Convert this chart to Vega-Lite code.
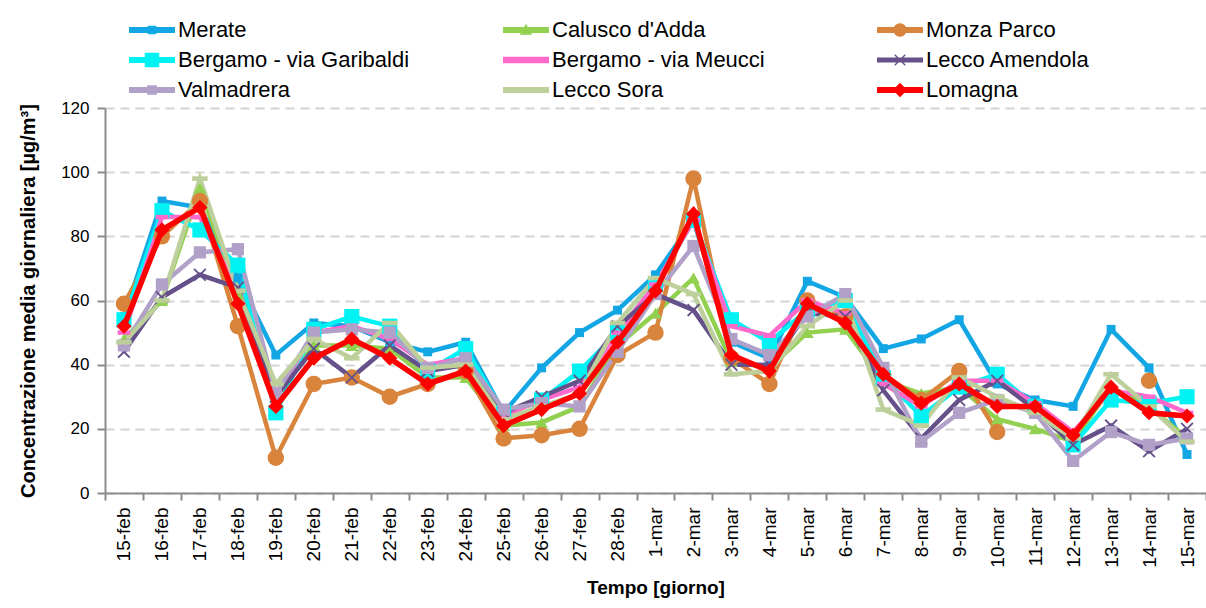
{
"$schema": "https://vega.github.io/schema/vega-lite/v6.json",
"width": 1101,
"height": 385,
"autosize": {"type": "none"},
"padding": {"left": 105, "top": 108, "right": 0, "bottom": 115},
"background": "white",
"config": {"view": {"stroke": null}, "font": "Liberation Sans"},
"datasets": {
"serie": [
{"stazione":"Merate","giorno":"15-feb","valore":55},{"stazione":"Merate","giorno":"16-feb","valore":91},{"stazione":"Merate","giorno":"17-feb","valore":89},{"stazione":"Merate","giorno":"18-feb","valore":67},{"stazione":"Merate","giorno":"19-feb","valore":43},{"stazione":"Merate","giorno":"20-feb","valore":53},{"stazione":"Merate","giorno":"21-feb","valore":52},{"stazione":"Merate","giorno":"22-feb","valore":47},{"stazione":"Merate","giorno":"23-feb","valore":44},{"stazione":"Merate","giorno":"24-feb","valore":47},{"stazione":"Merate","giorno":"25-feb","valore":25},{"stazione":"Merate","giorno":"26-feb","valore":39},{"stazione":"Merate","giorno":"27-feb","valore":50},{"stazione":"Merate","giorno":"28-feb","valore":57},{"stazione":"Merate","giorno":"1-mar","valore":68},{"stazione":"Merate","giorno":"2-mar","valore":85},{"stazione":"Merate","giorno":"3-mar","valore":47},{"stazione":"Merate","giorno":"4-mar","valore":42},{"stazione":"Merate","giorno":"5-mar","valore":66},{"stazione":"Merate","giorno":"6-mar","valore":61},{"stazione":"Merate","giorno":"7-mar","valore":45},{"stazione":"Merate","giorno":"8-mar","valore":48},{"stazione":"Merate","giorno":"9-mar","valore":54},{"stazione":"Merate","giorno":"10-mar","valore":34},{"stazione":"Merate","giorno":"11-mar","valore":29},{"stazione":"Merate","giorno":"12-mar","valore":27},{"stazione":"Merate","giorno":"13-mar","valore":51},{"stazione":"Merate","giorno":"14-mar","valore":39},{"stazione":"Merate","giorno":"15-mar","valore":12},
{"stazione":"Calusco d'Adda","giorno":"15-feb","valore":48},{"stazione":"Calusco d'Adda","giorno":"16-feb","valore":60},{"stazione":"Calusco d'Adda","giorno":"17-feb","valore":95},{"stazione":"Calusco d'Adda","giorno":"18-feb","valore":62},{"stazione":"Calusco d'Adda","giorno":"19-feb","valore":30},{"stazione":"Calusco d'Adda","giorno":"20-feb","valore":46},{"stazione":"Calusco d'Adda","giorno":"21-feb","valore":46},{"stazione":"Calusco d'Adda","giorno":"22-feb","valore":45},{"stazione":"Calusco d'Adda","giorno":"23-feb","valore":36},{"stazione":"Calusco d'Adda","giorno":"24-feb","valore":36},{"stazione":"Calusco d'Adda","giorno":"25-feb","valore":21},{"stazione":"Calusco d'Adda","giorno":"26-feb","valore":22},{"stazione":"Calusco d'Adda","giorno":"27-feb","valore":27},{"stazione":"Calusco d'Adda","giorno":"28-feb","valore":46},{"stazione":"Calusco d'Adda","giorno":"1-mar","valore":56},{"stazione":"Calusco d'Adda","giorno":"2-mar","valore":67},{"stazione":"Calusco d'Adda","giorno":"3-mar","valore":41},{"stazione":"Calusco d'Adda","giorno":"4-mar","valore":39},{"stazione":"Calusco d'Adda","giorno":"5-mar","valore":50},{"stazione":"Calusco d'Adda","giorno":"6-mar","valore":51},{"stazione":"Calusco d'Adda","giorno":"7-mar","valore":35},{"stazione":"Calusco d'Adda","giorno":"8-mar","valore":31},{"stazione":"Calusco d'Adda","giorno":"9-mar","valore":33},{"stazione":"Calusco d'Adda","giorno":"10-mar","valore":23},{"stazione":"Calusco d'Adda","giorno":"11-mar","valore":20},{"stazione":"Calusco d'Adda","giorno":"12-mar","valore":16},{"stazione":"Calusco d'Adda","giorno":"13-mar","valore":33},{"stazione":"Calusco d'Adda","giorno":"14-mar","valore":27},{"stazione":"Calusco d'Adda","giorno":"15-mar","valore":17},
{"stazione":"Monza Parco","giorno":"15-feb","valore":59},{"stazione":"Monza Parco","giorno":"16-feb","valore":80},{"stazione":"Monza Parco","giorno":"17-feb","valore":91},{"stazione":"Monza Parco","giorno":"18-feb","valore":52},{"stazione":"Monza Parco","giorno":"19-feb","valore":11},{"stazione":"Monza Parco","giorno":"20-feb","valore":34},{"stazione":"Monza Parco","giorno":"21-feb","valore":36},{"stazione":"Monza Parco","giorno":"22-feb","valore":30},{"stazione":"Monza Parco","giorno":"23-feb","valore":34},{"stazione":"Monza Parco","giorno":"24-feb","valore":38},{"stazione":"Monza Parco","giorno":"25-feb","valore":17},{"stazione":"Monza Parco","giorno":"26-feb","valore":18},{"stazione":"Monza Parco","giorno":"27-feb","valore":20},{"stazione":"Monza Parco","giorno":"28-feb","valore":43},{"stazione":"Monza Parco","giorno":"1-mar","valore":50},{"stazione":"Monza Parco","giorno":"2-mar","valore":98},{"stazione":"Monza Parco","giorno":"3-mar","valore":42},{"stazione":"Monza Parco","giorno":"4-mar","valore":34},{"stazione":"Monza Parco","giorno":"5-mar","valore":60},{"stazione":"Monza Parco","giorno":"6-mar","valore":55},{"stazione":"Monza Parco","giorno":"7-mar","valore":37},{"stazione":"Monza Parco","giorno":"8-mar","valore":29},{"stazione":"Monza Parco","giorno":"9-mar","valore":38},{"stazione":"Monza Parco","giorno":"10-mar","valore":19},{"stazione":"Monza Parco","giorno":"11-mar","valore":null},{"stazione":"Monza Parco","giorno":"12-mar","valore":null},{"stazione":"Monza Parco","giorno":"13-mar","valore":null},{"stazione":"Monza Parco","giorno":"14-mar","valore":35},{"stazione":"Monza Parco","giorno":"15-mar","valore":null},
{"stazione":"Bergamo - via Garibaldi","giorno":"15-feb","valore":54},{"stazione":"Bergamo - via Garibaldi","giorno":"16-feb","valore":88},{"stazione":"Bergamo - via Garibaldi","giorno":"17-feb","valore":82},{"stazione":"Bergamo - via Garibaldi","giorno":"18-feb","valore":71},{"stazione":"Bergamo - via Garibaldi","giorno":"19-feb","valore":25},{"stazione":"Bergamo - via Garibaldi","giorno":"20-feb","valore":51},{"stazione":"Bergamo - via Garibaldi","giorno":"21-feb","valore":55},{"stazione":"Bergamo - via Garibaldi","giorno":"22-feb","valore":52},{"stazione":"Bergamo - via Garibaldi","giorno":"23-feb","valore":38},{"stazione":"Bergamo - via Garibaldi","giorno":"24-feb","valore":45},{"stazione":"Bergamo - via Garibaldi","giorno":"25-feb","valore":25},{"stazione":"Bergamo - via Garibaldi","giorno":"26-feb","valore":29},{"stazione":"Bergamo - via Garibaldi","giorno":"27-feb","valore":38},{"stazione":"Bergamo - via Garibaldi","giorno":"28-feb","valore":50},{"stazione":"Bergamo - via Garibaldi","giorno":"1-mar","valore":65},{"stazione":"Bergamo - via Garibaldi","giorno":"2-mar","valore":85},{"stazione":"Bergamo - via Garibaldi","giorno":"3-mar","valore":54},{"stazione":"Bergamo - via Garibaldi","giorno":"4-mar","valore":47},{"stazione":"Bergamo - via Garibaldi","giorno":"5-mar","valore":57},{"stazione":"Bergamo - via Garibaldi","giorno":"6-mar","valore":60},{"stazione":"Bergamo - via Garibaldi","giorno":"7-mar","valore":36},{"stazione":"Bergamo - via Garibaldi","giorno":"8-mar","valore":24},{"stazione":"Bergamo - via Garibaldi","giorno":"9-mar","valore":33},{"stazione":"Bergamo - via Garibaldi","giorno":"10-mar","valore":37},{"stazione":"Bergamo - via Garibaldi","giorno":"11-mar","valore":27},{"stazione":"Bergamo - via Garibaldi","giorno":"12-mar","valore":15},{"stazione":"Bergamo - via Garibaldi","giorno":"13-mar","valore":29},{"stazione":"Bergamo - via Garibaldi","giorno":"14-mar","valore":28},{"stazione":"Bergamo - via Garibaldi","giorno":"15-mar","valore":30},
{"stazione":"Bergamo - via Meucci","giorno":"15-feb","valore":50},{"stazione":"Bergamo - via Meucci","giorno":"16-feb","valore":86},{"stazione":"Bergamo - via Meucci","giorno":"17-feb","valore":86},{"stazione":"Bergamo - via Meucci","giorno":"18-feb","valore":63},{"stazione":"Bergamo - via Meucci","giorno":"19-feb","valore":30},{"stazione":"Bergamo - via Meucci","giorno":"20-feb","valore":50},{"stazione":"Bergamo - via Meucci","giorno":"21-feb","valore":52},{"stazione":"Bergamo - via Meucci","giorno":"22-feb","valore":48},{"stazione":"Bergamo - via Meucci","giorno":"23-feb","valore":40},{"stazione":"Bergamo - via Meucci","giorno":"24-feb","valore":42},{"stazione":"Bergamo - via Meucci","giorno":"25-feb","valore":24},{"stazione":"Bergamo - via Meucci","giorno":"26-feb","valore":29},{"stazione":"Bergamo - via Meucci","giorno":"27-feb","valore":33},{"stazione":"Bergamo - via Meucci","giorno":"28-feb","valore":50},{"stazione":"Bergamo - via Meucci","giorno":"1-mar","valore":65},{"stazione":"Bergamo - via Meucci","giorno":"2-mar","valore":85},{"stazione":"Bergamo - via Meucci","giorno":"3-mar","valore":52},{"stazione":"Bergamo - via Meucci","giorno":"4-mar","valore":49},{"stazione":"Bergamo - via Meucci","giorno":"5-mar","valore":60},{"stazione":"Bergamo - via Meucci","giorno":"6-mar","valore":56},{"stazione":"Bergamo - via Meucci","giorno":"7-mar","valore":34},{"stazione":"Bergamo - via Meucci","giorno":"8-mar","valore":27},{"stazione":"Bergamo - via Meucci","giorno":"9-mar","valore":35},{"stazione":"Bergamo - via Meucci","giorno":"10-mar","valore":35},{"stazione":"Bergamo - via Meucci","giorno":"11-mar","valore":28},{"stazione":"Bergamo - via Meucci","giorno":"12-mar","valore":19},{"stazione":"Bergamo - via Meucci","giorno":"13-mar","valore":32},{"stazione":"Bergamo - via Meucci","giorno":"14-mar","valore":30},{"stazione":"Bergamo - via Meucci","giorno":"15-mar","valore":25},
{"stazione":"Lecco Amendola","giorno":"15-feb","valore":44},{"stazione":"Lecco Amendola","giorno":"16-feb","valore":61},{"stazione":"Lecco Amendola","giorno":"17-feb","valore":68},{"stazione":"Lecco Amendola","giorno":"18-feb","valore":64},{"stazione":"Lecco Amendola","giorno":"19-feb","valore":30},{"stazione":"Lecco Amendola","giorno":"20-feb","valore":45},{"stazione":"Lecco Amendola","giorno":"21-feb","valore":36},{"stazione":"Lecco Amendola","giorno":"22-feb","valore":46},{"stazione":"Lecco Amendola","giorno":"23-feb","valore":38},{"stazione":"Lecco Amendola","giorno":"24-feb","valore":40},{"stazione":"Lecco Amendola","giorno":"25-feb","valore":25},{"stazione":"Lecco Amendola","giorno":"26-feb","valore":30},{"stazione":"Lecco Amendola","giorno":"27-feb","valore":35},{"stazione":"Lecco Amendola","giorno":"28-feb","valore":52},{"stazione":"Lecco Amendola","giorno":"1-mar","valore":62},{"stazione":"Lecco Amendola","giorno":"2-mar","valore":57},{"stazione":"Lecco Amendola","giorno":"3-mar","valore":40},{"stazione":"Lecco Amendola","giorno":"4-mar","valore":40},{"stazione":"Lecco Amendola","giorno":"5-mar","valore":56},{"stazione":"Lecco Amendola","giorno":"6-mar","valore":55},{"stazione":"Lecco Amendola","giorno":"7-mar","valore":32},{"stazione":"Lecco Amendola","giorno":"8-mar","valore":17},{"stazione":"Lecco Amendola","giorno":"9-mar","valore":29},{"stazione":"Lecco Amendola","giorno":"10-mar","valore":35},{"stazione":"Lecco Amendola","giorno":"11-mar","valore":26},{"stazione":"Lecco Amendola","giorno":"12-mar","valore":15},{"stazione":"Lecco Amendola","giorno":"13-mar","valore":21},{"stazione":"Lecco Amendola","giorno":"14-mar","valore":13},{"stazione":"Lecco Amendola","giorno":"15-mar","valore":20},
{"stazione":"Valmadrera","giorno":"15-feb","valore":46},{"stazione":"Valmadrera","giorno":"16-feb","valore":65},{"stazione":"Valmadrera","giorno":"17-feb","valore":75},{"stazione":"Valmadrera","giorno":"18-feb","valore":76},{"stazione":"Valmadrera","giorno":"19-feb","valore":31},{"stazione":"Valmadrera","giorno":"20-feb","valore":50},{"stazione":"Valmadrera","giorno":"21-feb","valore":51},{"stazione":"Valmadrera","giorno":"22-feb","valore":50},{"stazione":"Valmadrera","giorno":"23-feb","valore":39},{"stazione":"Valmadrera","giorno":"24-feb","valore":42},{"stazione":"Valmadrera","giorno":"25-feb","valore":26},{"stazione":"Valmadrera","giorno":"26-feb","valore":28},{"stazione":"Valmadrera","giorno":"27-feb","valore":27},{"stazione":"Valmadrera","giorno":"28-feb","valore":44},{"stazione":"Valmadrera","giorno":"1-mar","valore":62},{"stazione":"Valmadrera","giorno":"2-mar","valore":77},{"stazione":"Valmadrera","giorno":"3-mar","valore":48},{"stazione":"Valmadrera","giorno":"4-mar","valore":43},{"stazione":"Valmadrera","giorno":"5-mar","valore":55},{"stazione":"Valmadrera","giorno":"6-mar","valore":62},{"stazione":"Valmadrera","giorno":"7-mar","valore":39},{"stazione":"Valmadrera","giorno":"8-mar","valore":16},{"stazione":"Valmadrera","giorno":"9-mar","valore":25},{"stazione":"Valmadrera","giorno":"10-mar","valore":29},{"stazione":"Valmadrera","giorno":"11-mar","valore":25},{"stazione":"Valmadrera","giorno":"12-mar","valore":10},{"stazione":"Valmadrera","giorno":"13-mar","valore":19},{"stazione":"Valmadrera","giorno":"14-mar","valore":15},{"stazione":"Valmadrera","giorno":"15-mar","valore":17},
{"stazione":"Lecco Sora","giorno":"15-feb","valore":47},{"stazione":"Lecco Sora","giorno":"16-feb","valore":60},{"stazione":"Lecco Sora","giorno":"17-feb","valore":98},{"stazione":"Lecco Sora","giorno":"18-feb","valore":63},{"stazione":"Lecco Sora","giorno":"19-feb","valore":34},{"stazione":"Lecco Sora","giorno":"20-feb","valore":48},{"stazione":"Lecco Sora","giorno":"21-feb","valore":42},{"stazione":"Lecco Sora","giorno":"22-feb","valore":53},{"stazione":"Lecco Sora","giorno":"23-feb","valore":39},{"stazione":"Lecco Sora","giorno":"24-feb","valore":40},{"stazione":"Lecco Sora","giorno":"25-feb","valore":23},{"stazione":"Lecco Sora","giorno":"26-feb","valore":27},{"stazione":"Lecco Sora","giorno":"27-feb","valore":31},{"stazione":"Lecco Sora","giorno":"28-feb","valore":53},{"stazione":"Lecco Sora","giorno":"1-mar","valore":67},{"stazione":"Lecco Sora","giorno":"2-mar","valore":62},{"stazione":"Lecco Sora","giorno":"3-mar","valore":37},{"stazione":"Lecco Sora","giorno":"4-mar","valore":38},{"stazione":"Lecco Sora","giorno":"5-mar","valore":52},{"stazione":"Lecco Sora","giorno":"6-mar","valore":60},{"stazione":"Lecco Sora","giorno":"7-mar","valore":26},{"stazione":"Lecco Sora","giorno":"8-mar","valore":21},{"stazione":"Lecco Sora","giorno":"9-mar","valore":36},{"stazione":"Lecco Sora","giorno":"10-mar","valore":30},{"stazione":"Lecco Sora","giorno":"11-mar","valore":25},{"stazione":"Lecco Sora","giorno":"12-mar","valore":17},{"stazione":"Lecco Sora","giorno":"13-mar","valore":37},{"stazione":"Lecco Sora","giorno":"14-mar","valore":27},{"stazione":"Lecco Sora","giorno":"15-mar","valore":16},
{"stazione":"Lomagna","giorno":"15-feb","valore":52},{"stazione":"Lomagna","giorno":"16-feb","valore":82},{"stazione":"Lomagna","giorno":"17-feb","valore":89},{"stazione":"Lomagna","giorno":"18-feb","valore":59},{"stazione":"Lomagna","giorno":"19-feb","valore":27},{"stazione":"Lomagna","giorno":"20-feb","valore":42},{"stazione":"Lomagna","giorno":"21-feb","valore":48},{"stazione":"Lomagna","giorno":"22-feb","valore":42},{"stazione":"Lomagna","giorno":"23-feb","valore":34},{"stazione":"Lomagna","giorno":"24-feb","valore":38},{"stazione":"Lomagna","giorno":"25-feb","valore":21},{"stazione":"Lomagna","giorno":"26-feb","valore":26},{"stazione":"Lomagna","giorno":"27-feb","valore":31},{"stazione":"Lomagna","giorno":"28-feb","valore":47},{"stazione":"Lomagna","giorno":"1-mar","valore":63},{"stazione":"Lomagna","giorno":"2-mar","valore":87},{"stazione":"Lomagna","giorno":"3-mar","valore":43},{"stazione":"Lomagna","giorno":"4-mar","valore":38},{"stazione":"Lomagna","giorno":"5-mar","valore":59},{"stazione":"Lomagna","giorno":"6-mar","valore":53},{"stazione":"Lomagna","giorno":"7-mar","valore":37},{"stazione":"Lomagna","giorno":"8-mar","valore":28},{"stazione":"Lomagna","giorno":"9-mar","valore":34},{"stazione":"Lomagna","giorno":"10-mar","valore":27},{"stazione":"Lomagna","giorno":"11-mar","valore":27},{"stazione":"Lomagna","giorno":"12-mar","valore":18},{"stazione":"Lomagna","giorno":"13-mar","valore":33},{"stazione":"Lomagna","giorno":"14-mar","valore":25},{"stazione":"Lomagna","giorno":"15-mar","valore":24}
]
},
"data": {"name": "serie"},
"encoding": {
  "x": {
    "field": "giorno", "type": "ordinal", "bandPosition": 0.5,
    "scale": {"type": "band", "paddingInner": 0, "paddingOuter": 0,
      "domain": ["15-feb","16-feb","17-feb","18-feb","19-feb","20-feb","21-feb","22-feb","23-feb","24-feb","25-feb","26-feb","27-feb","28-feb","1-mar","2-mar","3-mar","4-mar","5-mar","6-mar","7-mar","8-mar","9-mar","10-mar","11-mar","12-mar","13-mar","14-mar","15-mar"]},
    "axis": {"title": "Tempo [giorno]", "titleFontSize": 19, "titleFontWeight": "bold", "titleColor": "#000", "titlePadding": 11,
      "labelAngle": -90, "labelFontSize": 19, "labelColor": "#000", "labelPadding": 7,
      "tickBand": "extent", "domainColor": "#8c8c8c", "domainWidth": 2, "tickColor": "#8c8c8c", "tickWidth": 2, "tickSize": 7, "grid": false}
  },
  "y": {
    "field": "valore", "type": "quantitative",
    "scale": {"domain": [0, 120], "nice": false},
    "axis": {"values": [0, 20, 40, 60, 80, 100, 120], "grid": true, "gridDash": [9, 6], "gridColor": "#d4d4d4", "gridWidth": 2,
      "domainColor": "#8c8c8c", "domainWidth": 2, "tickColor": "#8c8c8c", "tickWidth": 2, "tickSize": 8,
      "labelFontSize": 17, "labelColor": "#000", "labelPadding": 8,
      "title": "Concentrazione media giornaliera  [µg/m³]", "titleFontSize": 20, "titleFontWeight": "bold", "titleColor": "#000", "titlePadding": 22}
  },
  "color": {
    "field": "stazione", "type": "nominal",
    "scale": {"domain": ["Merate","Calusco d'Adda","Monza Parco","Bergamo - via Garibaldi","Bergamo - via Meucci","Lecco Amendola","Valmadrera","Lecco Sora","Lomagna"],
      "range": ["#12A6E4","#92D050","#D9843C","#00F2F2","#FF69CC","#65508A","#B1A0C7","#BDD09B","#FF0000"]},
    "legend": {"orient": "none", "legendX": 36, "legendY": -89, "columns": 3, "direction": "horizontal", "title": null, "gridAlign": "all",
      "labelFontSize": 22, "labelColor": "#000", "labelLimit": 400, "labelOffset": 15,
      "symbolSize": 368, "rowPadding": 8, "columnPadding": 92,
      "encode": {"symbols": {"update": {
        "shape": {"signal": "{\"Merate\": \"M-2.4,-0.3H2.4V0.3H-2.4Z M-0.45,-0.45H0.45V0.45H-0.45Z\", \"Calusco d'Adda\": \"M-2.4,-0.3H2.4V0.3H-2.4Z M0,-0.65L0.65,0.5H-0.65Z\", \"Monza Parco\": \"M-2.4,-0.3H2.4V0.3H-2.4Z M-0.7,0A0.7,0.7,0,1,1,0.7,0A0.7,0.7,0,1,1,-0.7,0Z\", \"Bergamo - via Garibaldi\": \"M-2.4,-0.3H2.4V0.3H-2.4Z M-0.75,-0.75H0.75V0.75H-0.75Z\", \"Bergamo - via Meucci\": \"M-2.4,-0.35H2.4V0.35H-2.4Z\", \"Lecco Amendola\": \"M-2.4,-0.25H2.4V0.25H-2.4Z M-0.6,-0.5L-0.5,-0.6L0,-0.1L0.5,-0.6L0.6,-0.5L0.1,0L0.6,0.5L0.5,0.6L0,0.1L-0.5,0.6L-0.6,0.5L-0.1,0Z\", \"Valmadrera\": \"M-2.4,-0.3H2.4V0.3H-2.4Z M-0.5,-0.5H0.5V0.5H-0.5Z\", \"Lecco Sora\": \"M-2.4,-0.32H2.4V0.32H-2.4Z\", \"Lomagna\": \"M-2.4,-0.3H2.4V0.3H-2.4Z M0,-0.75L0.75,0L0,0.75L-0.75,0Z\"}[datum.value]"},
        "fill": {"scale": "color", "field": "value"},
        "stroke": {"value": "transparent"},
        "size": {"value": 368},
        "strokeWidth": {"value": 0},
        "opacity": {"value": 1}
      }}}}
  }
},
"layer": [
  {"mark": {"type": "line", "strokeWidth": 4.5, "invalid": "break-paths-filter-domains"}},
  {"transform": [{"filter": "datum.stazione === 'Merate'"}], "mark": {"type": "point", "filled": true, "opacity": 1, "shape": "square", "size": 80}},
  {"transform": [{"filter": "datum.stazione === \"Calusco d'Adda\""}], "mark": {"type": "point", "filled": true, "opacity": 1, "shape": "triangle-up", "size": 160}},
  {"transform": [{"filter": "datum.stazione === 'Monza Parco' && isValid(datum.valore)"}], "mark": {"type": "point", "filled": true, "opacity": 1, "shape": "circle", "size": 270}},
  {"transform": [{"filter": "datum.stazione === 'Bergamo - via Garibaldi'"}], "mark": {"type": "point", "filled": true, "opacity": 1, "shape": "square", "size": 230}},
  {"transform": [{"filter": "datum.stazione === 'Bergamo - via Meucci'"}], "mark": {"type": "point", "filled": true, "opacity": 1, "shape": "M-1,-0.35H1V0.35H-1Z", "size": 160}},
  {"transform": [{"filter": "datum.stazione === 'Lecco Amendola'"}], "mark": {"type": "point", "filled": true, "opacity": 1, "shape": "M-1,-0.8L-0.8,-1L0,-0.2L0.8,-1L1,-0.8L0.2,0L1,0.8L0.8,1L0,0.2L-0.8,1L-1,0.8L-0.2,0Z", "size": 170}},
  {"transform": [{"filter": "datum.stazione === 'Valmadrera'"}], "mark": {"type": "point", "filled": true, "opacity": 1, "shape": "square", "size": 150}},
  {"transform": [{"filter": "datum.stazione === 'Lecco Sora'"}], "mark": {"type": "point", "filled": true, "opacity": 1, "shape": "M-1,-0.3H1V0.3H-1Z", "size": 240}},
  {"transform": [{"filter": "datum.stazione === 'Lomagna'"}], "mark": {"type": "line", "strokeWidth": 5.5}},
  {"transform": [{"filter": "datum.stazione === 'Lomagna'"}], "mark": {"type": "point", "filled": true, "opacity": 1, "shape": "diamond", "size": 230}}
]
}
